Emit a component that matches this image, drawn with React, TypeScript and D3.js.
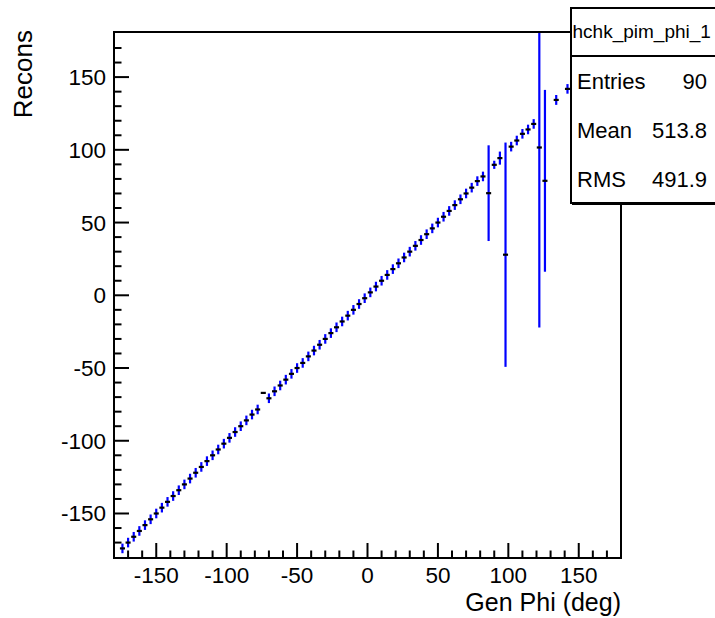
import React from 'react';
import * as d3 from 'd3';

// Bin centres (deg) of the profile that have entries
const binCenters = [
  -174, -170, -166, -162, -158, -154, -150, -146, -142, -138, -134, -130, -126, -122, -118, -114,
  -110, -106, -102, -98, -94, -90, -86, -82, -78, -74, -70, -66, -62, -58, -54, -50,
  -46, -42, -38, -34, -30, -26, -22, -18, -14, -10, -6, -2, 2, 6, 10, 14,
  18, 22, 26, 30, 34, 38, 42, 46, 50, 54, 58, 62, 66, 70, 74, 78,
  82, 86, 90, 94, 98, 102, 106, 110, 114, 118, 122, 126, 134, 142,
];
// Mean reconstructed phi per bin
const means = [
  -174, -170, -166, -162, -158, -154, -150, -146, -142, -138, -134, -130, -126, -122, -118, -114,
  -110, -106, -102, -98, -94, -90, -86, -82, -78.5, -67.1, -70.8, -66, -62, -58, -54, -50,
  -46.5, -42, -38, -34, -30, -26, -22, -18, -14, -10, -6, -2, 2, 6, 10, 14,
  18, 22, 26, 30, 34, 38, 42, 46, 50, 54, 58, 62, 66, 70, 74, 78.5,
  81.7, 70.2, 89.7, 94.3, 27.9, 102.2, 106.4, 111, 114, 117.8, 101.6, 78.7, 134.3, 141.9,
];
// Error on the mean per bin
const errors = [
  3.3, 3.3, 3.3, 3.3, 3.3, 3.3, 3.3, 3.3, 3.3, 3.3, 3.3, 3.3, 3.3, 3.3, 3.3, 3.3,
  3.3, 3.3, 3.3, 3.3, 3.3, 3.3, 3.3, 3.3, 3.3, 0, 3.3, 3.3, 3.3, 3.3, 3.3, 3.3,
  3.3, 3.3, 3.3, 3.3, 3.3, 3.3, 3.3, 3.3, 3.3, 3.3, 3.3, 3.3, 3.3, 3.3, 3.3, 3.3,
  3.3, 3.3, 3.3, 3.3, 3.3, 3.3, 3.3, 3.3, 3.3, 3.3, 3.3, 3.3, 3.3, 3.3, 3.3, 3.3,
  3.3, 32.9, 2.8, 4.5, 77.1, 3.3, 3.3, 3.3, 3.3, 3.3, 123.8, 62.5, 3.4, 3.3,
];

const xMajorTicks = [-150, -100, -50, 0, 50, 100, 150];
const yMajorTicks = [-150, -100, -50, 0, 50, 100, 150];
const minorTicks = [-170, -160, -140, -130, -120, -110, -90, -80, -70, -60, -40, -30, -20, -10,
  10, 20, 30, 40, 60, 70, 80, 90, 110, 120, 130, 140, 160, 170];

const xTitle = 'Gen Phi (deg)';
const yTitle = 'Recons';
const statsTitle = 'hchk_pim_phi_1';
const statsLabels = ['Entries', 'Mean', 'RMS'];
const statsValues = ['90', '513.8', '491.9'];

const W = 715;
const H = 618;
const FONT = '"Liberation Sans", Arial, Helvetica, sans-serif';

export default function App() {
  const left = 114, right = 621, top = 32, bottom = 558;
  const x = d3.scaleLinear().domain([-180, 180]).range([left, right]);
  const y = d3.scaleLinear().domain([-180.6, 181]).range([bottom, top]);
  const binHalf = 2;
  const halfPx = x(binHalf) - x(0);

  const points = binCenters.map((c, i) => ({ c, m: means[i], e: errors[i] }));

  return (
    <svg width={W} height={H} style={{ position: 'absolute', left: 0, top: 0, display: 'block', background: '#fff' }}
      fontFamily={FONT}>
      <defs>
        <clipPath id="frameClip">
          <rect x={left} y={top} width={right - left} height={bottom - top} />
        </clipPath>
      </defs>
      <rect x={0} y={0} width={W} height={H} fill="#fff" />

      {/* data */}
      <g clipPath="url(#frameClip)">
        {points.map((p, i) => (
          <g key={i}>
            {p.e > 0 && (
              <line x1={x(p.c)} x2={x(p.c)} y1={y(p.m - p.e)} y2={y(p.m + p.e)} stroke="#0000ff" strokeWidth={2.2} />
            )}
            <line x1={x(p.c) - halfPx * 0.9} x2={x(p.c) + halfPx * 0.9} y1={y(p.m)} y2={y(p.m)} stroke="#000" strokeWidth={2.2} />
          </g>
        ))}
      </g>

      {/* frame */}
      <rect x={left} y={top} width={right - left} height={bottom - top} fill="none" stroke="#000" strokeWidth={2} />

      {/* x ticks */}
      {xMajorTicks.map((t) => (
        <g key={'xm' + t}>
          <line x1={x(t)} x2={x(t)} y1={bottom} y2={bottom - 15} stroke="#000" strokeWidth={2} />
          <text x={x(t)} y={583} textAnchor="middle" fontSize={22.5}>{t}</text>
        </g>
      ))}
      {minorTicks.map((t) => (
        <line key={'xn' + t} x1={x(t)} x2={x(t)} y1={bottom} y2={bottom - 7.5} stroke="#000" strokeWidth={2} />
      ))}

      {/* y ticks */}
      {yMajorTicks.map((t) => (
        <g key={'ym' + t}>
          <line x1={left} x2={left + 15} y1={y(t)} y2={y(t)} stroke="#000" strokeWidth={2} />
          <text x={106} y={y(t) + 8} textAnchor="end" fontSize={22.5}>{t}</text>
        </g>
      ))}
      {minorTicks.map((t) => (
        <line key={'yn' + t} x1={left} x2={left + 7.5} y1={y(t)} y2={y(t)} stroke="#000" strokeWidth={2} />
      ))}

      {/* axis titles */}
      <text x={right} y={611} textAnchor="end" fontSize={25}>{xTitle}</text>
      <text transform={`translate(32, 30) rotate(-90)`} textAnchor="end" fontSize={26}>{yTitle}</text>

      {/* stats box */}
      <g>
        <rect x={571} y={8} width={160} height={195} fill="#fff" stroke="#000" strokeWidth={2} />
        <line x1={571} x2={W} y1={56} y2={56} stroke="#000" strokeWidth={2} />
        <line x1={572} x2={W} y1={204.5} y2={204.5} stroke="#000" strokeWidth={1} />
        <text x={572.5} y={38} fontSize={19}>{statsTitle}</text>
        {statsLabels.map((l, i) => (
          <g key={l}>
            <text x={577} y={89 + i * 49} fontSize={22}>{l}</text>
            <text x={707} y={89 + i * 49} fontSize={22} textAnchor="end">{statsValues[i]}</text>
          </g>
        ))}
      </g>
    </svg>
  );
}
